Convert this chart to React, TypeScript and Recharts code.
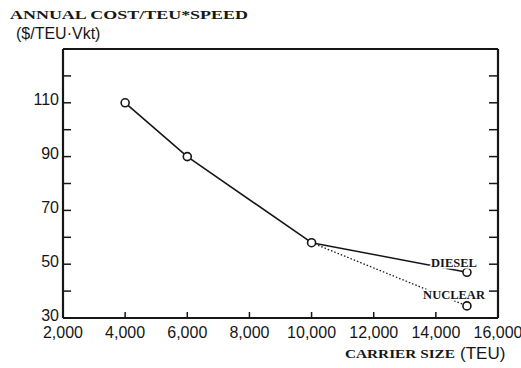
import { LineChart, Line, XAxis, YAxis, LabelList } from "recharts";

const carrierSizes = [4000, 6000, 10000, 15000];
const sharedCost = [110, 90, 58, null];
const dieselCost = [null, null, 58, 47];
const nuclearCost = [null, null, 58, 34.5];

const xTicks = [2000, 4000, 6000, 8000, 10000, 12000, 14000, 16000];
const yTicks = [30, 40, 50, 60, 70, 80, 90, 100, 110, 120, 130];
const yLabelled = [30, 50, 70, 90, 110];

const data = carrierSizes.map((size, i) => ({
  size,
  shared: sharedCost[i],
  diesel: dieselCost[i],
  nuclear: nuclearCost[i],
}));

const INK = "#161616";
const serif = "'Liberation Serif', 'DejaVu Serif', serif";
const sans = "'Liberation Sans', Arial, sans-serif";

const lastDot = (props: any) => {
  if (props.index !== carrierSizes.length - 1 || props.cy == null) return <g key={props.index} />;
  return <circle key={props.index} cx={props.cx} cy={props.cy} r={4} fill="#fff" stroke={INK} strokeWidth={1.6} />;
};

const endLabel = (name: string, dx: number, dy: number) => (props: any) => {
  if (props.index !== carrierSizes.length - 1) return null;
  return (
    <text
      x={props.x + dx}
      y={props.y + dy}
      textAnchor="end"
      fontFamily={serif}
      fontWeight="bold"
      fontSize={12.5}
      fill={INK}
      stroke="#fff"
      strokeWidth={3}
      paintOrder="stroke"
    >
      {name}
    </text>
  );
};

export default function App() {
  return (
    <div style={{ position: "absolute", left: 0, top: 0, width: 521, height: 368, background: "#fff" }}>
      <LineChart width={521} height={368} data={data} margin={{ top: 48, right: 22, left: 8, bottom: 20 }}>
        <XAxis
          dataKey="size"
          type="number"
          domain={[2000, 16000]}
          ticks={xTicks}
          interval={0}
          tickFormatter={(v: number) => v.toLocaleString("en-US")}
          tickSize={-6}
          tickMargin={15}
          height={30}
          axisLine={{ stroke: INK, strokeWidth: 2.2 }}
          tickLine={{ stroke: INK, strokeWidth: 1.5 }}
          tick={{ fill: INK, fontFamily: sans, fontSize: 16 }}
        />
        <XAxis
          xAxisId="top"
          orientation="top"
          dataKey="size"
          type="number"
          domain={[2000, 16000]}
          ticks={xTicks}
          height={1}
          tickLine={false}
          tickFormatter={() => ""}
          axisLine={{ stroke: INK, strokeWidth: 2.2 }}
        />
        <YAxis
          type="number"
          domain={[30, 130]}
          ticks={yTicks}
          interval={0}
          width={55}
          tickSize={-8}
          tickMargin={12}
          tickFormatter={(v: number) => (yLabelled.includes(v) ? String(v) : "")}
          axisLine={{ stroke: INK, strokeWidth: 2.2 }}
          tickLine={{ stroke: INK, strokeWidth: 1.5 }}
          tick={{ fill: INK, fontFamily: sans, fontSize: 16, dy: -3 }}
        />
        <YAxis
          yAxisId="right"
          orientation="right"
          type="number"
          domain={[30, 130]}
          ticks={yTicks}
          interval={0}
          width={1}
          tickSize={-9}
          tickFormatter={() => ""}
          axisLine={{ stroke: INK, strokeWidth: 2.2 }}
          tickLine={{ stroke: INK, strokeWidth: 1.5 }}
        />
        {/* invisible series so the top and right frame axes get drawn */}
        <Line
          xAxisId="top"
          yAxisId="right"
          dataKey="shared"
          stroke="none"
          dot={false}
          activeDot={false}
          isAnimationActive={false}
        />
        <Line
          dataKey="diesel"
          stroke={INK}
          strokeWidth={1.5}
          dot={lastDot}
          isAnimationActive={false}
        >
          <LabelList dataKey="diesel" content={endLabel("DIESEL", 10, -5)} />
        </Line>
        <Line
          dataKey="nuclear"
          stroke={INK}
          strokeWidth={1.3}
          strokeDasharray="1.5 2"
          dot={lastDot}
          isAnimationActive={false}
        >
          <LabelList dataKey="nuclear" content={endLabel("NUCLEAR", 18, -7)} />
        </Line>
        <Line
          dataKey="shared"
          stroke={INK}
          strokeWidth={1.6}
          dot={{ r: 4, fill: "#fff", stroke: INK, strokeWidth: 1.6 }}
          isAnimationActive={false}
        />
      </LineChart>
      <svg width={521} height={368} style={{ position: "absolute", left: 0, top: 0, pointerEvents: "none" }}>
        <text x={10} y={19} fontFamily={serif} fontWeight="bold" fontSize={13} fill={INK} textLength={238} lengthAdjust="spacingAndGlyphs">
          ANNUAL COST/TEU*SPEED
        </text>
        <text x={16} y={39} fontFamily={sans} fontSize={16} fill={INK}>
          ($/TEU·Vkt)
        </text>
        <text x={345} y={358} fontFamily={serif} fontWeight="bold" fontSize={13} fill={INK} textLength={110} lengthAdjust="spacingAndGlyphs">
          CARRIER SIZE
        </text>
        <text x={460} y={359} fontFamily={sans} fontSize={17} fill={INK}>
          (TEU)
        </text>
      </svg>
    </div>
  );
}
